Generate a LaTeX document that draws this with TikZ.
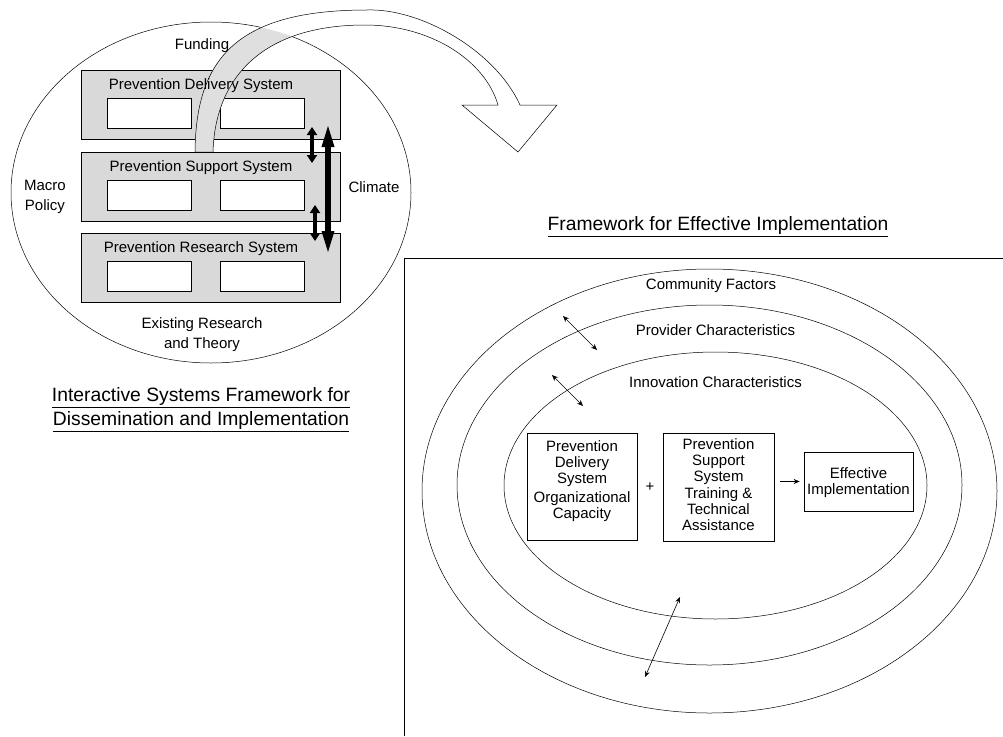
\documentclass[tikz,border=0pt]{standalone}
\usepackage{fontspec}
\setmainfont{Liberation Sans}
\usetikzlibrary{arrows.meta,shapes.geometric,positioning}

\tikzset{
  lbl/.style={font=\fontsize{15}{20}\selectfont, inner sep=0pt, align=center},
  boxtxt/.style={font=\fontsize{15}{16}\selectfont, inner sep=0pt, align=center},
  ttl/.style={font=\fontsize{19.3}{24}\selectfont, inner sep=0pt, align=center},
  sysbox/.style={draw, fill=gray!30, line width=0.7pt, minimum width=259pt, minimum height=69pt, inner sep=0pt, anchor=north west},
  slot/.style={draw, fill=white, line width=0.7pt, minimum width=84pt, minimum height=30pt, inner sep=0pt, anchor=north west},
  ring/.style={draw, ellipse, line width=0.5pt, inner sep=0pt, outer sep=0pt},
  fwbox/.style={draw, line width=0.7pt, inner sep=0pt},
  fatarrow/.style={line width=4pt, {Triangle[length=8pt,width=10pt]}-{Triangle[length=8pt,width=10pt]}},
  thinarrow/.style={line width=0.6pt, {Stealth[length=6pt,width=5pt]}-{Stealth[length=6pt,width=5pt]}},
}

\begin{document}
\begin{tikzpicture}[x=1pt,y=-1pt]
  \useasboundingbox (0,0) rectangle (1003,736);

  %% left: the interactive systems framework
  \node[ring, minimum width=400pt, minimum height=341pt] (isf) at (211,192.5) {};
  \foreach \nm/\ytop in {pds/70, pss/152, prs/233} { % one grey box per system
    \node[sysbox] (\nm) at (81,\ytop) {};
    \node[slot] (\nm-l) at (107,\ytop+28) {};
    \node[slot] (\nm-r) at (220,\ytop+28) {};
  }

  %% the bent arrow from one framework to the other
  \def\bend{(195,152) .. controls (196,60) and (235,10) .. (367,10)
    .. controls (420,8) and (495,50) .. (520,105) -- (557,105) -- (518,152) -- (462,105) -- (498,105)
    .. controls (485,60) and (430,25) .. (365,25) .. controls (260,25) and (215,80) .. (213,152) -- cycle}
  \fill[white] \bend;
  \begin{scope}
    \clip (isf.center) ellipse [x radius=200pt, y radius=170.5pt]; % grey only inside the ellipse
    \fill[gray!25] \bend;
  \end{scope}
  \draw[line width=0.5pt] \bend;
  \draw[line width=0.7pt] (pss.north west) -- (pss.north east);

  \foreach \nm/\sys/\ytop in {pds/Delivery/70, pss/Support/152, prs/Research/233} { % titles sit over the arrow
    \node[lbl] (\nm-t) at (201,\ytop+16) {Prevention \sys\ System};
  }
  \node[lbl] (fund)  at (202,46)  {Funding};
  \node[lbl] (macro) at (45,197)  {Macro\\Policy};
  \node[lbl] (clim)  at (374,187) {Climate};
  \node[lbl] (exist) at (202,335) {Existing Research\\and Theory};
  \node[ttl] (isft)  at (201,410) {\underline{Interactive Systems Framework for}\\\underline{Dissemination and Implementation}};

  %% links between the systems
  \coordinate (lk1a) at (312,127); \coordinate (lk1b) at (312,163);
  \coordinate (lk2a) at (315,205); \coordinate (lk2b) at (315,241);
  \coordinate (lk3a) at (328,123); \coordinate (lk3b) at (328,255);
  \draw[fatarrow] (lk1a) -- (lk1b);
  \draw[fatarrow] (lk2a) -- (lk2b);
  \draw[line width=5.5pt, {Triangle[length=24pt,width=11pt]}-{Triangle[length=24pt,width=11pt]}] (lk3a) -- (lk3b);

  %% right: framework for effective implementation
  \node[ttl] (feit) at (718,227) {\underline{Framework for Effective Implementation}};
  \draw[line width=0.6pt] (404,736) -- (404,258) -- (1003,258);
  \node[ring, minimum width=575pt, minimum height=444pt] (comm) at (709.5,491) {};
  \node[ring, minimum width=505pt, minimum height=360pt] (prov) at (709.5,485) {};
  \node[ring, minimum width=423pt, minimum height=267pt] (innov) at (715.5,485.5) {};
  \node[lbl] (comm-t)  at (711,286)   {Community Factors};
  \node[lbl] (prov-t)  at (715.5,330) {Provider Characteristics};
  \node[lbl] (innov-t) at (715.5,382) {Innovation Characteristics};

  \coordinate (in1a) at (563,316); \coordinate (in1b) at (597,350);
  \coordinate (in2a) at (552,375); \coordinate (in2b) at (583,406);
  \coordinate (in3a) at (680,597); \coordinate (in3b) at (645,677);
  \foreach \p in {1,2,3} { % the three small two-way arrows
    \draw[thinarrow] (in\p a) -- (in\p b);
  }

  \node[fwbox, minimum width=110pt, minimum height=107pt] (dcap) at (582,486.5) {};
  \node[boxtxt] (dcap-t) at ([yshift=5pt]dcap.center) {Prevention\\Delivery\\System\\[3pt]Organizational\\Capacity};
  \node[fwbox, minimum width=111pt, minimum height=108pt] (stta) at (718.5,487) {};
  \node[boxtxt] (stta-t) at ([yshift=2pt]stta.center) {Prevention\\Support\\System\\[1pt]Training \&\\Technical\\Assistance};
  \node[fwbox, minimum width=109pt, minimum height=59pt] (effimp) at (858.5,481.5) {};
  \node[boxtxt] (effimp-t) at ([yshift=-1.5pt]effimp.center) {Effective\\Implementation};
  \node[boxtxt] (plus) at (650,487) {+};
  \draw[line width=0.6pt, -{Stealth[length=6pt,width=5pt]}, shorten <=6pt, shorten >=4pt] (effimp.west -| stta.east) -- (effimp.west);
\end{tikzpicture}
\end{document}
